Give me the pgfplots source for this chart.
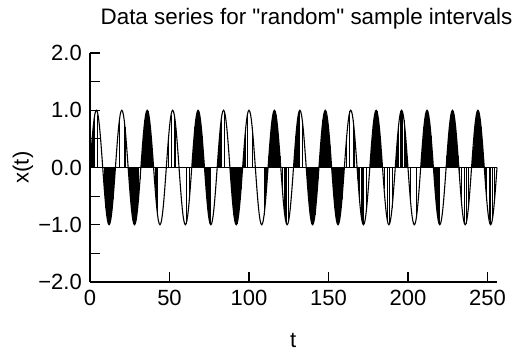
\documentclass[border=0pt]{standalone}
\usepackage{fontspec}
\setmainfont{Liberation Sans}[Ligatures=TeXOff]
\usepackage{pgfplots}
\usepackage{pgfplotstable}
\pgfplotsset{compat=1.18}
\pgfplotstableread[row sep=\\]{
t x s\\
0 0 0\\ 0.5 .1951 1\\ 1 .3827 1\\ 1.5 .5556 1\\ 2 .7071 1\\ 2.5 .8315 1\\ 3 .9239 1\\ 3.5 .9808 0\\ 4 1 0\\ 4.5 .9808 0\\ 5 .9239 1\\ 5.5 .8315 0\\ 6 .7071 0\\ 6.5 .5556 0\\ 7 .3827 0\\ 7.5 .1951 0\\
8 0 0\\ 8.5 -.1951 0\\ 9 -.3827 1\\ 9.5 -.5556 1\\ 10 -.7071 1\\ 10.5 -.8315 1\\ 11 -.9239 1\\ 11.5 -.9808 1\\ 12 -1 1\\ 12.5 -.9808 1\\ 13 -.9239 1\\ 13.5 -.8315 1\\ 14 -.7071 1\\ 14.5 -.5556 1\\ 15 -.3827 1\\ 15.5 -.1951 1\\
16 0 0\\ 16.5 .1951 0\\ 17 .3827 0\\ 17.5 .5556 0\\ 18 .7071 0\\ 18.5 .8315 1\\ 19 .9239 0\\ 19.5 .9808 0\\ 20 1 0\\ 20.5 .9808 0\\ 21 .9239 0\\ 21.5 .8315 1\\ 22 .7071 1\\ 22.5 .5556 0\\ 23 .3827 0\\ 23.5 .1951 0\\
24 0 0\\ 24.5 -.1951 1\\ 25 -.3827 1\\ 25.5 -.5556 1\\ 26 -.7071 1\\ 26.5 -.8315 1\\ 27 -.9239 1\\ 27.5 -.9808 1\\ 28 -1 1\\ 28.5 -.9808 1\\ 29 -.9239 1\\ 29.5 -.8315 1\\ 30 -.7071 1\\ 30.5 -.5556 1\\ 31 -.3827 0\\ 31.5 -.1951 1\\
32 0 0\\ 32.5 .1951 1\\ 33 .3827 1\\ 33.5 .5556 1\\ 34 .7071 1\\ 34.5 .8315 1\\ 35 .9239 1\\ 35.5 .9808 1\\ 36 1 1\\ 36.5 .9808 1\\ 37 .9239 1\\ 37.5 .8315 1\\ 38 .7071 1\\ 38.5 .5556 1\\ 39 .3827 0\\ 39.5 .1951 1\\
40 0 0\\ 40.5 -.1951 0\\ 41 -.3827 1\\ 41.5 -.5556 0\\ 42 -.7071 1\\ 42.5 -.8315 1\\ 43 -.9239 0\\ 43.5 -.9808 0\\ 44 -1 0\\ 44.5 -.9808 0\\ 45 -.9239 0\\ 45.5 -.8315 0\\ 46 -.7071 0\\ 46.5 -.5556 0\\ 47 -.3827 0\\ 47.5 -.1951 0\\
48 0 0\\ 48.5 .1951 0\\ 49 .3827 0\\ 49.5 .5556 1\\ 50 .7071 0\\ 50.5 .8315 0\\ 51 .9239 1\\ 51.5 .9808 0\\ 52 1 0\\ 52.5 .9808 0\\ 53 .9239 1\\ 53.5 .8315 0\\ 54 .7071 1\\ 54.5 .5556 0\\ 55 .3827 0\\ 55.5 .1951 0\\
56 0 0\\ 56.5 -.1951 0\\ 57 -.3827 0\\ 57.5 -.5556 0\\ 58 -.7071 0\\ 58.5 -.8315 0\\ 59 -.9239 0\\ 59.5 -.9808 0\\ 60 -1 0\\ 60.5 -.9808 1\\ 61 -.9239 0\\ 61.5 -.8315 0\\ 62 -.7071 0\\ 62.5 -.5556 1\\ 63 -.3827 0\\ 63.5 -.1951 0\\
64 0 0\\ 64.5 .1951 1\\ 65 .3827 1\\ 65.5 .5556 1\\ 66 .7071 1\\ 66.5 .8315 1\\ 67 .9239 1\\ 67.5 .9808 1\\ 68 1 1\\ 68.5 .9808 1\\ 69 .9239 1\\ 69.5 .8315 1\\ 70 .7071 1\\ 70.5 .5556 1\\ 71 .3827 1\\ 71.5 .1951 1\\
72 0 0\\ 72.5 -.1951 1\\ 73 -.3827 1\\ 73.5 -.5556 1\\ 74 -.7071 1\\ 74.5 -.8315 1\\ 75 -.9239 1\\ 75.5 -.9808 1\\ 76 -1 1\\ 76.5 -.9808 0\\ 77 -.9239 0\\ 77.5 -.8315 0\\ 78 -.7071 0\\ 78.5 -.5556 0\\ 79 -.3827 0\\ 79.5 -.1951 0\\
80 0 0\\ 80.5 .1951 0\\ 81 .3827 1\\ 81.5 .5556 1\\ 82 .7071 1\\ 82.5 .8315 1\\ 83 .9239 0\\ 83.5 .9808 0\\ 84 1 0\\ 84.5 .9808 1\\ 85 .9239 0\\ 85.5 .8315 0\\ 86 .7071 0\\ 86.5 .5556 0\\ 87 .3827 0\\ 87.5 .1951 0\\
88 0 0\\ 88.5 -.1951 1\\ 89 -.3827 1\\ 89.5 -.5556 1\\ 90 -.7071 1\\ 90.5 -.8315 1\\ 91 -.9239 1\\ 91.5 -.9808 1\\ 92 -1 1\\ 92.5 -.9808 1\\ 93 -.9239 1\\ 93.5 -.8315 1\\ 94 -.7071 1\\ 94.5 -.5556 1\\ 95 -.3827 1\\ 95.5 -.1951 1\\
96 0 0\\ 96.5 .1951 1\\ 97 .3827 1\\ 97.5 .5556 1\\ 98 .7071 1\\ 98.5 .8315 0\\ 99 .9239 1\\ 99.5 .9808 0\\ 100 1 0\\ 100.5 .9808 0\\ 101 .9239 0\\ 101.5 .8315 0\\ 102 .7071 1\\ 102.5 .5556 0\\ 103 .3827 0\\ 103.5 .1951 0\\
104 0 0\\ 104.5 -.1951 0\\ 105 -.3827 0\\ 105.5 -.5556 0\\ 106 -.7071 0\\ 106.5 -.8315 0\\ 107 -.9239 0\\ 107.5 -.9808 0\\ 108 -1 0\\ 108.5 -.9808 0\\ 109 -.9239 0\\ 109.5 -.8315 1\\ 110 -.7071 1\\ 110.5 -.5556 1\\ 111 -.3827 1\\ 111.5 -.1951 1\\
112 0 0\\ 112.5 .1951 1\\ 113 .3827 1\\ 113.5 .5556 1\\ 114 .7071 1\\ 114.5 .8315 1\\ 115 .9239 1\\ 115.5 .9808 1\\ 116 1 1\\ 116.5 .9808 1\\ 117 .9239 1\\ 117.5 .8315 1\\ 118 .7071 1\\ 118.5 .5556 1\\ 119 .3827 1\\ 119.5 .1951 1\\
120 0 0\\ 120.5 -.1951 0\\ 121 -.3827 1\\ 121.5 -.5556 0\\ 122 -.7071 0\\ 122.5 -.8315 1\\ 123 -.9239 1\\ 123.5 -.9808 1\\ 124 -1 0\\ 124.5 -.9808 0\\ 125 -.9239 1\\ 125.5 -.8315 0\\ 126 -.7071 0\\ 126.5 -.5556 0\\ 127 -.3827 0\\ 127.5 -.1951 0\\
128 0 0\\ 128.5 .1951 1\\ 129 .3827 0\\ 129.5 .5556 1\\ 130 .7071 1\\ 130.5 .8315 1\\ 131 .9239 1\\ 131.5 .9808 1\\ 132 1 1\\ 132.5 .9808 0\\ 133 .9239 0\\ 133.5 .8315 1\\ 134 .7071 0\\ 134.5 .5556 0\\ 135 .3827 0\\ 135.5 .1951 0\\
136 0 0\\ 136.5 -.1951 1\\ 137 -.3827 1\\ 137.5 -.5556 1\\ 138 -.7071 1\\ 138.5 -.8315 1\\ 139 -.9239 1\\ 139.5 -.9808 1\\ 140 -1 1\\ 140.5 -.9808 1\\ 141 -.9239 1\\ 141.5 -.8315 1\\ 142 -.7071 1\\ 142.5 -.5556 1\\ 143 -.3827 1\\ 143.5 -.1951 1\\
144 0 0\\ 144.5 .1951 1\\ 145 .3827 1\\ 145.5 .5556 1\\ 146 .7071 0\\ 146.5 .8315 1\\ 147 .9239 1\\ 147.5 .9808 1\\ 148 1 1\\ 148.5 .9808 0\\ 149 .9239 1\\ 149.5 .8315 1\\ 150 .7071 1\\ 150.5 .5556 1\\ 151 .3827 1\\ 151.5 .1951 1\\
152 0 0\\ 152.5 -.1951 1\\ 153 -.3827 1\\ 153.5 -.5556 1\\ 154 -.7071 1\\ 154.5 -.8315 1\\ 155 -.9239 1\\ 155.5 -.9808 1\\ 156 -1 1\\ 156.5 -.9808 1\\ 157 -.9239 1\\ 157.5 -.8315 1\\ 158 -.7071 1\\ 158.5 -.5556 1\\ 159 -.3827 1\\ 159.5 -.1951 1\\
160 0 0\\ 160.5 .1951 0\\ 161 .3827 0\\ 161.5 .5556 1\\ 162 .7071 0\\ 162.5 .8315 0\\ 163 .9239 0\\ 163.5 .9808 1\\ 164 1 0\\ 164.5 .9808 0\\ 165 .9239 0\\ 165.5 .8315 1\\ 166 .7071 0\\ 166.5 .5556 1\\ 167 .3827 0\\ 167.5 .1951 0\\
168 0 0\\ 168.5 -.1951 1\\ 169 -.3827 1\\ 169.5 -.5556 1\\ 170 -.7071 0\\ 170.5 -.8315 0\\ 171 -.9239 1\\ 171.5 -.9808 1\\ 172 -1 1\\ 172.5 -.9808 0\\ 173 -.9239 0\\ 173.5 -.8315 0\\ 174 -.7071 1\\ 174.5 -.5556 0\\ 175 -.3827 0\\ 175.5 -.1951 0\\
176 0 0\\ 176.5 .1951 1\\ 177 .3827 1\\ 177.5 .5556 1\\ 178 .7071 1\\ 178.5 .8315 1\\ 179 .9239 1\\ 179.5 .9808 1\\ 180 1 1\\ 180.5 .9808 1\\ 181 .9239 1\\ 181.5 .8315 1\\ 182 .7071 1\\ 182.5 .5556 1\\ 183 .3827 1\\ 183.5 .1951 1\\
184 0 0\\ 184.5 -.1951 0\\ 185 -.3827 1\\ 185.5 -.5556 0\\ 186 -.7071 0\\ 186.5 -.8315 0\\ 187 -.9239 1\\ 187.5 -.9808 0\\ 188 -1 0\\ 188.5 -.9808 1\\ 189 -.9239 0\\ 189.5 -.8315 0\\ 190 -.7071 1\\ 190.5 -.5556 0\\ 191 -.3827 0\\ 191.5 -.1951 0\\
192 0 0\\ 192.5 .1951 1\\ 193 .3827 1\\ 193.5 .5556 1\\ 194 .7071 1\\ 194.5 .8315 0\\ 195 .9239 1\\ 195.5 .9808 1\\ 196 1 1\\ 196.5 .9808 1\\ 197 .9239 0\\ 197.5 .8315 1\\ 198 .7071 1\\ 198.5 .5556 1\\ 199 .3827 1\\ 199.5 .1951 1\\
200 0 0\\ 200.5 -.1951 0\\ 201 -.3827 0\\ 201.5 -.5556 1\\ 202 -.7071 0\\ 202.5 -.8315 0\\ 203 -.9239 0\\ 203.5 -.9808 0\\ 204 -1 0\\ 204.5 -.9808 0\\ 205 -.9239 0\\ 205.5 -.8315 1\\ 206 -.7071 0\\ 206.5 -.5556 0\\ 207 -.3827 0\\ 207.5 -.1951 0\\
208 0 0\\ 208.5 .1951 1\\ 209 .3827 1\\ 209.5 .5556 1\\ 210 .7071 1\\ 210.5 .8315 1\\ 211 .9239 1\\ 211.5 .9808 1\\ 212 1 1\\ 212.5 .9808 1\\ 213 .9239 1\\ 213.5 .8315 1\\ 214 .7071 1\\ 214.5 .5556 1\\ 215 .3827 1\\ 215.5 .1951 1\\
216 0 0\\ 216.5 -.1951 1\\ 217 -.3827 1\\ 217.5 -.5556 1\\ 218 -.7071 1\\ 218.5 -.8315 1\\ 219 -.9239 1\\ 219.5 -.9808 1\\ 220 -1 0\\ 220.5 -.9808 0\\ 221 -.9239 0\\ 221.5 -.8315 0\\ 222 -.7071 0\\ 222.5 -.5556 0\\ 223 -.3827 0\\ 223.5 -.1951 0\\
224 0 0\\ 224.5 .1951 1\\ 225 .3827 1\\ 225.5 .5556 1\\ 226 .7071 1\\ 226.5 .8315 1\\ 227 .9239 1\\ 227.5 .9808 1\\ 228 1 1\\ 228.5 .9808 1\\ 229 .9239 1\\ 229.5 .8315 1\\ 230 .7071 1\\ 230.5 .5556 1\\ 231 .3827 1\\ 231.5 .1951 1\\
232 0 0\\ 232.5 -.1951 1\\ 233 -.3827 0\\ 233.5 -.5556 1\\ 234 -.7071 0\\ 234.5 -.8315 0\\ 235 -.9239 0\\ 235.5 -.9808 1\\ 236 -1 0\\ 236.5 -.9808 1\\ 237 -.9239 0\\ 237.5 -.8315 0\\ 238 -.7071 1\\ 238.5 -.5556 0\\ 239 -.3827 0\\ 239.5 -.1951 0\\
240 0 0\\ 240.5 .1951 1\\ 241 .3827 1\\ 241.5 .5556 1\\ 242 .7071 1\\ 242.5 .8315 1\\ 243 .9239 1\\ 243.5 .9808 1\\ 244 1 1\\ 244.5 .9808 1\\ 245 .9239 1\\ 245.5 .8315 1\\ 246 .7071 1\\ 246.5 .5556 1\\ 247 .3827 1\\ 247.5 .1951 1\\
248 0 0\\ 248.5 -.1951 0\\ 249 -.3827 1\\ 249.5 -.5556 1\\ 250 -.7071 0\\ 250.5 -.8315 0\\ 251 -.9239 1\\ 251.5 -.9808 0\\ 252 -1 1\\ 252.5 -.9808 0\\ 253 -.9239 1\\ 253.5 -.8315 0\\ 254 -.7071 0\\ 254.5 -.5556 1\\ 255 -.3827 0\\ 255.5 -.1951 0\\
256 0 0\\
}\data
\begin{document}
\begin{tikzpicture}
\useasboundingbox (-90pt,-70pt) rectangle (427pt,282pt);
\begin{axis}[
  scale only axis, width=407pt, height=229pt,
  xmin=0, xmax=256, ymin=-2, ymax=2,
  axis x line*=bottom, axis y line*=left,
  axis line style={line width=1.4pt, -},
  every tick/.style={black, line width=1.1pt},
  tick align=inside,
  major tick length=10pt, minor tick length=10pt,
  xtick={0,50,100,150,200,250},
  ytick={-2,-1,0,1,2},
  minor ytick={-1.5,-0.5,0.5,1.5},
  yticklabels={−2.0,−1.0,0.0,1.0,2.0},
  /pgf/number format/assume math mode=true,
  tick label style={font=\fontsize{22}{24}\selectfont},
  xticklabel style={inner sep=0pt, yshift=-8pt},
  yticklabel style={inner sep=0pt, xshift=-8pt},
  title={Data series for "random" sample intervals},
  title style={font=\fontsize{22.4}{24}\selectfont, at={(axis description cs:0.532,1.1004)}, anchor=base, inner sep=0pt},
  xlabel={t},
  xlabel style={font=\fontsize{22}{24}\selectfont, at={(axis description cs:0.499,-0.285)}, anchor=base, inner sep=0pt},
  ylabel={x(t)},
  ylabel style={font=\fontsize{22}{24}\selectfont, at={(axis description cs:-0.165,0.5)}, anchor=center, inner sep=0pt},
  clip=false,
]
\addplot[black, line width=1pt] coordinates {(0,0) (256,0)};
\addplot[black, ycomb, no marks, line width=0.9pt, restrict expr to domain={\thisrow{s}}{0.5:1.5}] table[x=t, y=x] {\data};
\addplot[black, line width=1.1pt, no marks] table[x=t, y=x] {\data};
\end{axis}
\end{tikzpicture}
\end{document}
